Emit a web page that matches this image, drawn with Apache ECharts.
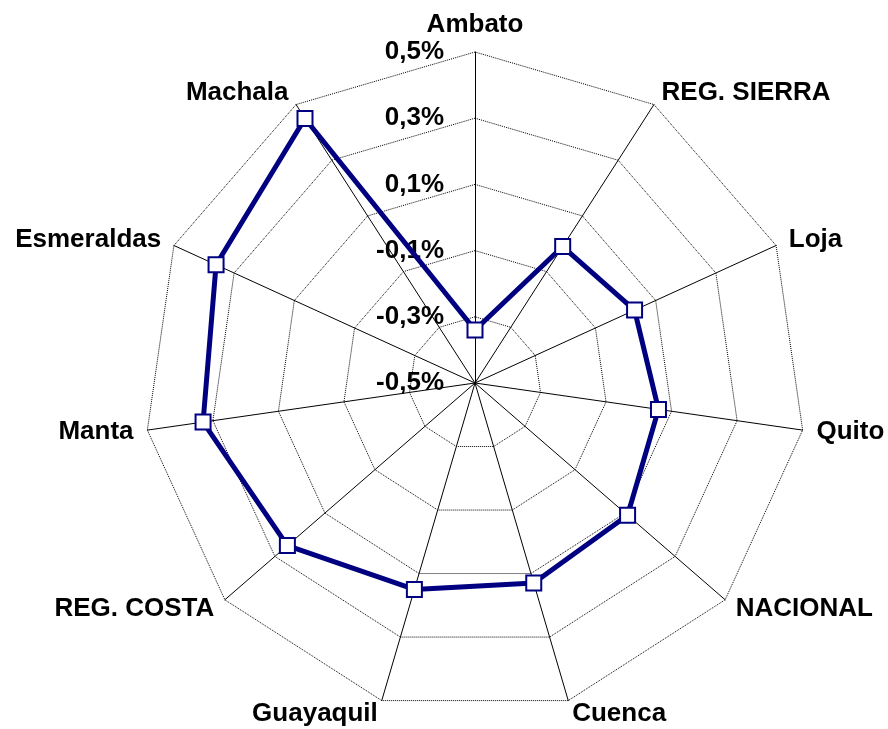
<!DOCTYPE html>
<html>
<head>
<meta charset="utf-8">
<script src="https://cdn.jsdelivr.net/npm/echarts@6/dist/echarts.min.js"></script>
<style>
  html, body { margin: 0; padding: 0; background: #fff; }
  #chart { width: 888px; height: 729px; }
</style>
</head>
<body>
<div id="chart"></div>
<script>
// categories clockwise from the top
const categories = ['Ambato', 'REG. SIERRA', 'Loja', 'Quito', 'NACIONAL', 'Cuenca',
  'Guayaquil', 'REG. COSTA', 'Manta', 'Esmeraldas', 'Machala'];
// values in percent
const values = [-0.34, -0.01, 0.03, 0.06, 0.11, 0.13, 0.15, 0.25, 0.33, 0.36, 0.45];
const axisMin = -0.5;
const axisMax = 0.5;

const font = '"Liberation Sans", Arial, sans-serif';

// radar goes counter-clockwise, so keep the first one and reverse the rest
const order = [0].concat(categories.map((c, i) => i).slice(1).reverse());

const indicator = order.map((i, k) => {
  const ind = { name: categories[i], min: axisMin, max: axisMax };
  if (k === 0) {
    ind.axisLabel = {
      show: true,
      showMinLabel: true,
      showMaxLabel: true,
      margin: 31,
      color: '#000',
      fontSize: 26,
      fontWeight: 'bold',
      fontFamily: font,
      formatter: v => v.toFixed(1).replace('.', ',') + '%'
    };
  }
  return ind;
});

const chart = echarts.init(document.getElementById('chart'));
chart.setOption({
  animation: false,
  backgroundColor: '#fff',
  radar: {
    center: [475, 383],
    radius: 331,
    startAngle: 90,
    splitNumber: 5,
    shape: 'polygon',
    nameGap: 14,
    axisName: { color: '#000', fontSize: 26, fontWeight: 'bold', fontFamily: font },
    axisLine: { lineStyle: { color: '#000', width: 1 } },
    splitLine: { lineStyle: { color: '#000', width: 1, type: 'dotted' } },
    splitArea: { show: false },
    axisTick: { show: false },
    axisLabel: { show: false },
    indicator: indicator
  },
  series: [{
    type: 'radar',
    symbol: 'rect',
    symbolSize: 15,
    lineStyle: { color: '#000080', width: 5 },
    itemStyle: { color: '#fff', borderColor: '#000080', borderWidth: 2 },
    data: [{ value: order.map(i => values[i]) }]
  }]
});
</script>
</body>
</html>
